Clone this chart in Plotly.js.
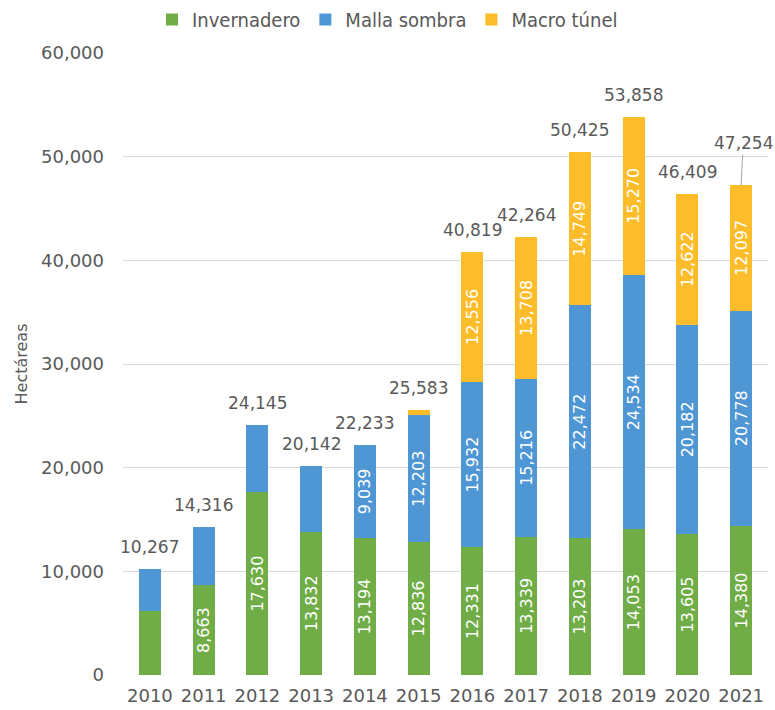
<!DOCTYPE html>
<html>
<head>
<meta charset="utf-8">
<script src="https://cdn.plot.ly/plotly-3.0.1.min.js"></script>
<style>html,body{margin:0;padding:0;background:#fff;}#chart{width:775px;height:710px;}</style>
</head>
<body>
<div id="chart"></div>
<script>
var years = [2010, 2011, 2012, 2013, 2014, 2015, 2016, 2017, 2018, 2019, 2020, 2021];
var invernadero = [6200, 8663, 17630, 13832, 13194, 12836, 12331, 13339, 13203, 14053, 13605, 14380];
var mallaSombra = [4067, 5653, 6515, 6310, 9039, 12203, 15932, 15216, 22472, 24534, 20182, 20778];
var macroTunel = [0, 0, 0, 0, 0, 544, 12556, 13708, 14749, 15270, 12622, 12097];
var totals = [10267, 14316, 24145, 20142, 22233, 25583, 40819, 42264, 50425, 53858, 46409, 47254];
var showInv = [false, true, true, true, true, true, true, true, true, true, true, true];
var showMalla = [false, false, false, false, true, true, true, true, true, true, true, true];
var showMacro = [false, false, false, false, false, false, true, true, true, true, true, true];

function fmt(v){ return v.toLocaleString('en-US'); }
function labels(vals, show){ return vals.map(function(v,i){ return show[i] ? fmt(v) : ''; }); }

var FONT = 'DejaVu Sans, sans-serif';
var GRAY = '#595959';

function barTrace(name, vals, show, color){
  return {
    type: 'bar', name: name, x: years, y: vals,
    marker: {color: color},
    text: labels(vals, show),
    textposition: 'inside', insidetextanchor: 'middle', textangle: -90,
    insidetextfont: {family: FONT, size: 16, color: '#ffffff'},
    hoverinfo: 'skip'
  };
}

var data = [
  barTrace('Invernadero', invernadero, showInv, '#70AD47'),
  barTrace('Malla sombra', mallaSombra, showMalla, '#4F96D5'),
  barTrace('Macro túnel', macroTunel, showMacro, '#FDBD2B')
];

var annotations = years.map(function(yr, i){
  var last = (i === years.length - 1);
  if (last) {
    return {x: yr, y: totals[i], xref: 'x', yref: 'y', text: fmt(totals[i]),
      showarrow: true, arrowhead: 0, arrowwidth: 1, arrowcolor: '#A6A6A6',
      ax: 2, ay: -42, standoff: 0, font: {family: FONT, size: 17, color: GRAY}};
  }
  return {x: yr, y: totals[i], xref: 'x', yref: 'y', text: fmt(totals[i]),
    showarrow: false, yanchor: 'middle', yshift: 22,
    font: {family: FONT, size: 17, color: GRAY}};
});

var layout = {
  width: 775, height: 710,
  margin: {l: 123, r: 7, t: 53, b: 35, pad: 0},
  paper_bgcolor: '#ffffff', plot_bgcolor: '#ffffff',
  barmode: 'stack', bargap: 0.59,
  uniformtext: {mode: 'show', minsize: 16},
  font: {family: FONT, color: GRAY},
  showlegend: true,
  legend: {orientation: 'h', xref: 'container', yref: 'container', x: 0.5, xanchor: 'center', y: 1, yanchor: 'top',
    font: {family: 'DejaVu Sans Condensed, Liberation Sans, sans-serif', size: 20, color: GRAY},
    traceorder: 'normal'},
  xaxis: {type: 'linear', range: [2009.5, 2021.5], tickmode: 'array', tickvals: years, ticktext: years.map(String),
    showline: false, showgrid: false, zeroline: false, ticks: '',
    tickfont: {family: FONT, size: 18, color: GRAY}, automargin: false, ticklabelstandoff: 8},
  yaxis: {range: [0, 60000], dtick: 10000, tickformat: ',d', showgrid: true, gridcolor: '#D9D9D9', gridwidth: 1,
    zeroline: false, showline: false, ticks: '', automargin: false, ticklabelstandoff: 18,
    tickfont: {family: FONT, size: 18, color: GRAY},
    title: {text: 'Hectáreas', font: {family: FONT, size: 16, color: GRAY}, standoff: 9}},
  annotations: annotations
};

Plotly.newPlot('chart', data, layout, {displayModeBar: false, staticPlot: true});
</script>
</body>
</html>
